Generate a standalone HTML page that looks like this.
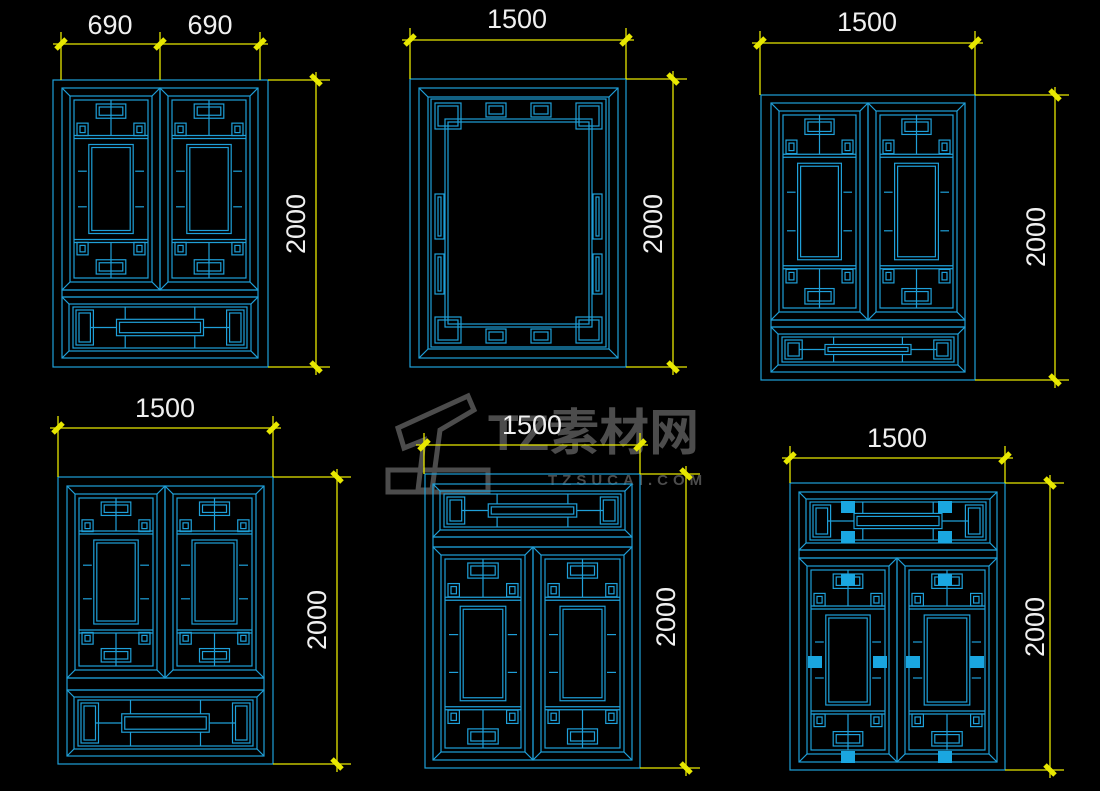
<!DOCTYPE html>
<html><head><meta charset="utf-8">
<style>
html,body{margin:0;padding:0;background:#000;}
svg{display:block;}
text{font-family:"Liberation Sans","Noto Sans CJK SC",sans-serif;}
</style></head>
<body>
<svg id="s" width="1100" height="791" viewBox="0 0 1100 791" xmlns="http://www.w3.org/2000/svg">
<rect width="1100" height="791" fill="#000"/>
<g id="wm" fill="#5a5a5a" opacity="0.85">
  <text x="488" y="450" font-size="50" font-weight="bold">TZ素材网</text>
  <text x="548" y="485" font-size="15" font-weight="bold" letter-spacing="5">TZSUCAI.COM</text>
  <path d="M398 428 L468 396 L474 410 L440 430 L432 490 L418 490 L424 440 L404 448 Z" fill="none" stroke="#5a5a5a" stroke-width="5"/>
  <path d="M388 470 L488 470 L488 492 L388 492 Z" fill="none" stroke="#5a5a5a" stroke-width="5"/>
</g>
<g id="d" fill="none" stroke="#1f9fd8" stroke-width="1.2"></g>
<g id="y" stroke="#e8e800" stroke-width="1.3" fill="none"></g>
<g fill="#f0f0f0" font-size="27">
  <text x="110" y="34" text-anchor="middle">690</text>
  <text x="210" y="34" text-anchor="middle">690</text>
  <text x="517" y="28" text-anchor="middle">1500</text>
  <text x="867" y="31" text-anchor="middle">1500</text>
  <text x="165" y="417" text-anchor="middle">1500</text>
  <text x="532" y="434" text-anchor="middle">1500</text>
  <text x="897" y="447" text-anchor="middle">1500</text>
  <text transform="translate(305,224) rotate(-90)" text-anchor="middle">2000</text>
  <text transform="translate(662,224) rotate(-90)" text-anchor="middle">2000</text>
  <text transform="translate(1045,237) rotate(-90)" text-anchor="middle">2000</text>
  <text transform="translate(326,620) rotate(-90)" text-anchor="middle">2000</text>
  <text transform="translate(675,617) rotate(-90)" text-anchor="middle">2000</text>
  <text transform="translate(1044,627) rotate(-90)" text-anchor="middle">2000</text>
</g>
</svg>
<script>
var NS="http://www.w3.org/2000/svg",D=document.getElementById('d'),Y=document.getElementById('y');
function el(p,t,a){var e=document.createElementNS(NS,t);for(var k in a)e.setAttribute(k,a[k]);p.appendChild(e);return e;}
function R(x,y,w,h,p){el(p||D,'rect',{x:x,y:y,width:w,height:h});}
function L(a,b,c,d,p){el(p||D,'line',{x1:a,y1:b,x2:c,y2:d});}
function bevel(x,y,w,h,d){R(x,y,w,h);R(x+d,y+d,w-2*d,h-2*d);L(x,y,x+d,y+d);L(x+w,y,x+w-d,y+d);L(x,y+h,x+d,y+h-d);L(x+w,y+h,x+w-d,y+h-d);}
function dbl(x,y,w,h){R(x,y,w,h);R(x+3,y+3,w-6,h-6);}
function sash(x,y,w,h){bevel(x,y,w,h,8);var ix=x+12,iy=y+12,iw=w-24,ih=h-24;R(ix,iy,iw,ih);
 var cx=ix+iw*0.2,cy=iy+ih*0.25,cw=iw*0.6,ch=ih*0.5;dbl(cx,cy,cw,ch);
 dbl(ix+iw*0.3,iy+4,iw*0.4,ih*0.08);dbl(ix+iw*0.3,iy+ih*0.92-4,iw*0.4,ih*0.08);
 L(ix,cy-6,ix+iw,cy-6);L(ix,cy-9,ix+iw,cy-9);L(ix,cy+ch+6,ix+iw,cy+ch+6);L(ix,cy+ch+9,ix+iw,cy+ch+9);
 dbl(ix+3,iy+ih*0.13,iw*0.15,ih*0.07);dbl(ix+iw*0.85-3,iy+ih*0.13,iw*0.15,ih*0.07);
 dbl(ix+3,iy+ih*0.8,iw*0.15,ih*0.07);dbl(ix+iw*0.85-3,iy+ih*0.8,iw*0.15,ih*0.07);
 L(ix+4,cy+ch*0.3,cx-2,cy+ch*0.3);L(ix+4,cy+ch*0.7,cx-2,cy+ch*0.7);L(cx+cw+2,cy+ch*0.3,ix+iw-4,cy+ch*0.3);L(cx+cw+2,cy+ch*0.7,ix+iw-4,cy+ch*0.7);
 L(ix+iw/2,iy,ix+iw/2,cy-9);L(ix+iw/2,cy+ch+9,ix+iw/2,iy+ih);}
function hpanel(x,y,w,h){bevel(x,y,w,h,7);var ix=x+11,iy=y+10,iw=w-22,ih=h-20;R(ix,iy,iw,ih);
 dbl(ix+iw*0.25,iy+ih*0.3,iw*0.5,ih*0.4);L(ix+iw*0.3,iy,ix+iw*0.3,iy+ih*0.3);L(ix+iw*0.7,iy,ix+iw*0.7,iy+ih*0.3);
 L(ix+iw*0.3,iy+ih*0.7,ix+iw*0.3,iy+ih);L(ix+iw*0.7,iy+ih*0.7,ix+iw*0.7,iy+ih);
 dbl(ix+3,iy+3,iw*0.1,ih-6);dbl(ix+iw*0.9-3,iy+3,iw*0.1,ih-6);L(ix+iw*0.1,iy+ih/2,ix+iw*0.25,iy+ih/2);L(ix+iw*0.75,iy+ih/2,ix+iw*0.9,iy+ih/2);}
function dimH(x1,x2,y,y0,ticks){L(x1-8,y,x2+8,y,Y);ticks.forEach(function(t){L(t,y-12,t,y0,Y);el(Y,'line',{x1:t-5,y1:y+5,x2:t+5,y2:y-5,'stroke-width':5});});}
function dimV(x,y1,y2,x0){L(x,y1-8,x,y2+8,Y);[y1,y2].forEach(function(t){L(x0,t,x+14,t,Y);el(Y,'line',{x1:x-5,y1:t-5,x2:x+5,y2:t+5,'stroke-width':5});});}
function blob(x,y){el(D,'rect',{x:x-7,y:y-6,width:14,height:12,fill:'#1aa6e0',stroke:'none'});}
// W1
R(53,80,215,287);sash(62,88,98,202);sash(160,88,98,202);R(62,290,196,7);hpanel(62,297,196,61);
dimH(61,260,44,80,[61,160,260]);dimV(316,80,367,268);
// W2
R(410,79,216,288);bevel(419,88,199,270,9);var x=431,y=99,w=175,h=248;R(x,y,w,h);dbl(x+14,y+20,w-28,h-40);
[[x+4,y+4],[x+w-30,y+4],[x+4,y+h-30],[x+w-30,y+h-30]].forEach(function(p){dbl(p[0],p[1],26,26);});
dbl(x+55,y+4,20,14);dbl(x+w-75,y+4,20,14);dbl(x+55,y+h-18,20,14);dbl(x+w-75,y+h-18,20,14);
dbl(x+4,y+95,9,45);dbl(x+w-13,y+95,9,45);dbl(x+4,y+155,9,40);dbl(x+w-13,y+155,9,40);
dimH(410,626,40,79,[410,626]);dimV(673,79,367,626);
// W3
R(761,95,214,285);sash(771,103,97,217);sash(868,103,97,217);R(771,320,194,7);hpanel(771,327,194,45);
dimH(760,975,43,95,[760,975]);dimV(1055,95,380,975);
// W4
R(58,477,215,287);sash(67,486,98,192);sash(165,486,99,192);R(67,678,197,12);hpanel(67,690,197,66);
dimH(58,273,428,477,[58,273]);dimV(337,477,764,273);
// W5
R(425,474,215,294);hpanel(433,484,199,53);R(433,537,199,10);sash(433,547,100,213);sash(533,547,99,213);
dimH(424,640,445,474,[424,640]);dimV(686,474,768,640);
// W6
R(790,483,215,287);hpanel(799,492,198,58);R(799,550,198,8);sash(799,558,98,204);sash(897,558,100,204);
dimH(790,1005,458,483,[790,1005]);dimV(1050,483,770,1005);
[[848,507],[945,507],[848,537],[945,537],[848,580],[945,580],[848,757],[945,757],[815,662],[880,662],[913,662],[977,662]].forEach(function(p){blob(p[0],p[1]);});
</script>
</body></html>
